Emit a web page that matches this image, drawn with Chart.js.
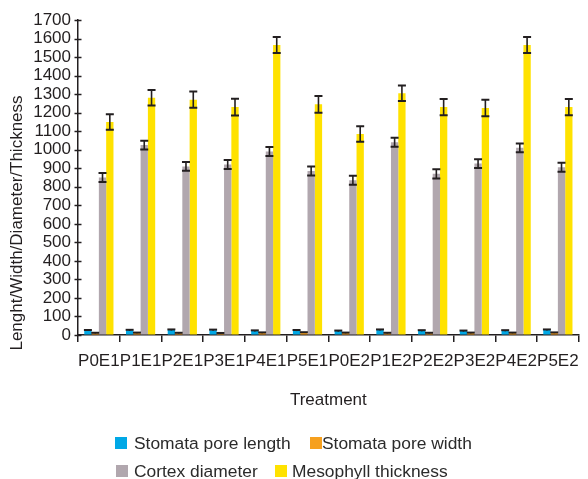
<!DOCTYPE html>
<html><head><meta charset="utf-8">
<script src="https://cdn.jsdelivr.net/npm/chart.js@4.4.1/dist/chart.umd.min.js"></script>
<style>
html,body{margin:0;padding:0;background:#fff;}
#wrap{position:relative;width:588px;height:479px;overflow:hidden;}
#legend{position:absolute;left:0;top:0;width:588px;height:479px;pointer-events:none;font-family:"Liberation Sans",Arial,sans-serif;font-size:17.4px;color:#2b2b2b;}
.sw{position:absolute;width:12px;height:12px;}
.lt{position:absolute;line-height:20px;white-space:nowrap;}
</style></head><body>
<div id="wrap"><canvas id="c" width="588" height="479"></canvas><div id="legend"></div></div>
<script>
const categories = ['P0E1','P1E1','P2E1','P3E1','P4E1','P5E1','P0E2','P1E2','P2E2','P3E2','P4E2','P5E2'];
const seriesNames = ['Stomata pore length','Stomata pore width','Cortex diameter','Mesophyll thickness'];
const poreLength    = [24,25,27,26,22,24,21,27,23,21,23,27];
const poreLengthErr = [3,3,3,3,3,3,3,3,3,3,3,3];
const poreWidth     = [10,11,10,9,12,13,11,10,10,11,11,12];
const poreWidthErr  = [2,2,2,2,2,2,2,2,2,2,2,2];
const cortex        = [850,1025,910,920,990,885,835,1040,870,925,1010,905];
const cortexErr     = [24,24,24,24,24,24,24,24,25,24,24,24];
const mesophyll     = [1150,1280,1270,1230,1565,1245,1085,1305,1230,1225,1565,1230];
const mesophyllErr  = [42,42,44,45,43,45,42,42,44,44,43,44];
const yTicks = {min:0, max:1700, step:100};
const yTitle = 'Lenght/Width/Diameter/Thickness';
const xTitle = 'Treatment';

const colors = ['#00a8e6','#f6a01e','#b1a7ae','#ffe200'];
const values = [poreLength, poreWidth, cortex, mesophyll];
const errors = [poreLengthErr, poreWidthErr, cortexErr, mesophyllErr];
const FONT = '"Liberation Sans", Arial, sans-serif';
const INK = '#231f20';

const errorBars = {
  id:'errorBars',
  afterDatasetsDraw(chart){
    const ctx = chart.ctx, ys = chart.scales.y;
    ctx.save();
    ctx.strokeStyle = INK;
    chart.data.datasets.forEach((ds, i) => {
      const meta = chart.getDatasetMeta(i);
      meta.data.forEach((el, j) => {
        const v = ds.data[j], e = errors[i][j];
        const yt = ys.getPixelForValue(v + e), yb = ys.getPixelForValue(Math.max(0, v - e));
        ctx.lineWidth = 1.6;
        ctx.beginPath(); ctx.moveTo(el.x, yt); ctx.lineTo(el.x, yb); ctx.stroke();
        ctx.lineWidth = 2;
        ctx.beginPath();
        ctx.moveTo(el.x - 4, yt); ctx.lineTo(el.x + 4, yt);
        if (v - e > 30) { ctx.moveTo(el.x - 4, yb); ctx.lineTo(el.x + 4, yb); }
        ctx.stroke();
      });
    });
    ctx.restore();
  }
};

const axisDecor = {
  id:'axisDecor',
  afterDraw(chart){
    const ctx = chart.ctx, ys = chart.scales.y, a = chart.chartArea;
    ctx.save();
    ctx.strokeStyle = INK; ctx.lineWidth = 1.5;
    ys.ticks.forEach((t, i) => {
      const y = Math.round(ys.getPixelForTick(i)) + 0.5;
      ctx.beginPath(); ctx.moveTo(a.left - 3.5, y); ctx.lineTo(a.left + 3.5, y); ctx.stroke();
    });
    ctx.fillStyle = INK;
    ctx.font = '17px ' + FONT;
    ctx.textAlign = 'center'; ctx.textBaseline = 'middle';
    ctx.translate(17, 223); ctx.rotate(-Math.PI/2);
    ctx.fillText(yTitle, 0, 0);
    ctx.restore();
  }
};

const chart = new Chart(document.getElementById('c'), {
  type:'bar',
  data:{
    labels: categories,
    datasets: seriesNames.map((n, i) => ({
      label:n, data:values[i], backgroundColor:colors[i], borderWidth:0,
      barPercentage:1.0, categoryPercentage:0.7
    }))
  },
  options:{
    responsive:false, animation:false, devicePixelRatio:1,
    layout:{padding:{top:20, right:8, bottom:68, left:0}},
    plugins:{legend:{display:false}, tooltip:{enabled:false}, title:{display:false}},
    scales:{
      x:{
        offset:true,
        grid:{drawOnChartArea:false, drawTicks:true, tickLength:7, color:INK, lineWidth:1.5, offset:true},
        border:{display:true, color:INK, width:1.5},
        ticks:{font:{family:FONT, size:17}, color:INK, padding:9, maxRotation:0, autoSkip:false},
        title:{display:true, text:xTitle, font:{family:FONT, size:17}, color:INK, padding:{top:0,bottom:0}},
        afterFit(s){ s.height = 76; }
      },
      y:{
        min:yTicks.min, max:yTicks.max,
        grid:{drawOnChartArea:false, drawTicks:false},
        border:{display:true, color:INK, width:1.5},
        ticks:{stepSize:yTicks.step, autoSkip:false, font:{family:FONT, size:17}, color:INK, padding:7,
               callback:(v) => String(v)},
        afterFit(s){ s.width = 78; }
      }
    }
  },
  plugins:[errorBars, axisDecor]
});

const legendLayout = [{box:115,text:134,row:0},{box:310,text:322,row:0},{box:116,text:134,row:1},{box:275,text:292,row:1}];
const rowTop = [433, 461];
const lg = document.getElementById('legend');
chart.data.datasets.forEach((ds, i) => {
  const L = legendLayout[i];
  const sw = document.createElement('div');
  sw.className = 'sw'; sw.style.background = ds.backgroundColor;
  sw.style.left = L.box + 'px'; sw.style.top = (rowTop[L.row] + 4) + 'px';
  const t = document.createElement('div');
  t.className = 'lt'; t.textContent = ds.label;
  t.style.left = L.text + 'px'; t.style.top = rowTop[L.row] + 'px';
  lg.appendChild(sw); lg.appendChild(t);
});
</script>
</body></html>
